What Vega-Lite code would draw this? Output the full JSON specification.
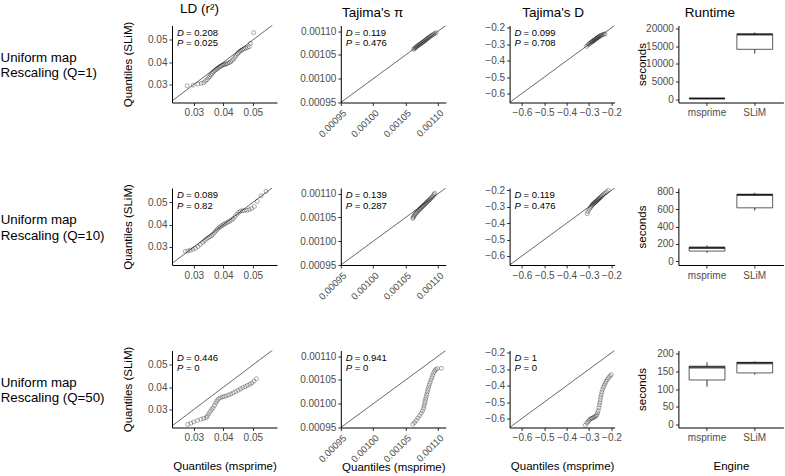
{
"$schema":"https://vega.github.io/schema/vega-lite/v6.json",
"padding":{"left":0,"top":1.5,"right":0,"bottom":0},
"config":{"font":"Liberation Sans","view":{"stroke":null},
"style":{"guide-title":{"fontWeight":"normal"}},
"point":{"shape":"circle","filled":false,"size":16,"color":"#000","opacity":0.55,"strokeWidth":0.6},
"axis":{"grid":false,"tickCount":20,"labelOverlap":false,"labelFlush":false,"domainColor":"#000","domainWidth":1,"tickColor":"#333","tickSize":3,"tickWidth":1,"labelColor":"#4d4d4d","labelFontSize":10,"labelPadding":2,"titleColor":"#000","titleFontSize":11.5,"titleFontWeight":"normal","labelFont":"Liberation Sans","titleFont":"Liberation Sans"},
"title":{"fontSize":13.5,"fontWeight":"normal","color":"#000","font":"Liberation Sans"},
"text":{"font":"Liberation Sans","fontSize":9.5,"color":"#000","align":"left","baseline":"middle"}},
"datasets":{
"ld1":[{"x":0.0277,"y":0.0294},{"x":0.0298,"y":0.0297},{"x":0.0314,"y":0.0302},{"x":0.0325,"y":0.0305},{"x":0.0333,"y":0.0308},{"x":0.034,"y":0.0316},{"x":0.0345,"y":0.0322},{"x":0.035,"y":0.033},{"x":0.0354,"y":0.0336},{"x":0.0358,"y":0.0343},{"x":0.0362,"y":0.035},{"x":0.0366,"y":0.0356},{"x":0.037,"y":0.0361},{"x":0.0374,"y":0.0366},{"x":0.0378,"y":0.037},{"x":0.0382,"y":0.0374},{"x":0.0386,"y":0.0378},{"x":0.039,"y":0.0381},{"x":0.0394,"y":0.0384},{"x":0.0398,"y":0.0387},{"x":0.0402,"y":0.0389},{"x":0.0406,"y":0.0391},{"x":0.041,"y":0.0393},{"x":0.0415,"y":0.0395},{"x":0.042,"y":0.0398},{"x":0.0425,"y":0.0402},{"x":0.043,"y":0.0408},{"x":0.0435,"y":0.0415},{"x":0.044,"y":0.0423},{"x":0.0444,"y":0.0431},{"x":0.0448,"y":0.0438},{"x":0.0452,"y":0.0444},{"x":0.0456,"y":0.0449},{"x":0.046,"y":0.0453},{"x":0.0465,"y":0.0457},{"x":0.047,"y":0.046},{"x":0.0476,"y":0.0463},{"x":0.0482,"y":0.0466},{"x":0.0488,"y":0.047},{"x":0.0492,"y":0.0485},{"x":0.0503,"y":0.0533}],
"ld2":[{"x":0.0271,"y":0.028},{"x":0.028,"y":0.0282},{"x":0.0288,"y":0.0285},{"x":0.0297,"y":0.0289},{"x":0.0305,"y":0.0294},{"x":0.0314,"y":0.0302},{"x":0.0322,"y":0.0311},{"x":0.033,"y":0.032},{"x":0.0336,"y":0.0328},{"x":0.0342,"y":0.0335},{"x":0.0348,"y":0.0341},{"x":0.0354,"y":0.0346},{"x":0.036,"y":0.0351},{"x":0.0365,"y":0.0357},{"x":0.037,"y":0.0365},{"x":0.0375,"y":0.0373},{"x":0.038,"y":0.038},{"x":0.0385,"y":0.0386},{"x":0.039,"y":0.0391},{"x":0.0395,"y":0.0396},{"x":0.04,"y":0.04},{"x":0.0405,"y":0.0404},{"x":0.041,"y":0.0408},{"x":0.0416,"y":0.0412},{"x":0.0422,"y":0.0416},{"x":0.0428,"y":0.0421},{"x":0.0434,"y":0.0428},{"x":0.044,"y":0.0437},{"x":0.0446,"y":0.0447},{"x":0.0452,"y":0.0455},{"x":0.0458,"y":0.0461},{"x":0.0465,"y":0.0463},{"x":0.0472,"y":0.0464},{"x":0.048,"y":0.0465},{"x":0.0488,"y":0.0468},{"x":0.0496,"y":0.0473},{"x":0.0505,"y":0.0482},{"x":0.0515,"y":0.0505},{"x":0.0528,"y":0.053},{"x":0.0545,"y":0.055}],
"ld3":[{"x":0.0279,"y":0.0233},{"x":0.029,"y":0.0238},{"x":0.03,"y":0.0244},{"x":0.0312,"y":0.025},{"x":0.0324,"y":0.0256},{"x":0.0333,"y":0.026},{"x":0.0342,"y":0.0263},{"x":0.0346,"y":0.027},{"x":0.035,"y":0.028},{"x":0.0355,"y":0.029},{"x":0.036,"y":0.0299},{"x":0.0365,"y":0.0307},{"x":0.037,"y":0.0318},{"x":0.0374,"y":0.0329},{"x":0.0378,"y":0.0338},{"x":0.0383,"y":0.0346},{"x":0.0389,"y":0.0352},{"x":0.0396,"y":0.0356},{"x":0.0403,"y":0.0358},{"x":0.041,"y":0.0361},{"x":0.0418,"y":0.0365},{"x":0.0426,"y":0.037},{"x":0.0434,"y":0.0375},{"x":0.0442,"y":0.038},{"x":0.045,"y":0.0386},{"x":0.0458,"y":0.0392},{"x":0.0466,"y":0.0398},{"x":0.0474,"y":0.0403},{"x":0.0482,"y":0.0408},{"x":0.049,"y":0.0413},{"x":0.0497,"y":0.0419},{"x":0.0504,"y":0.0427},{"x":0.0512,"y":0.0438}],
"pi1":[{"x":0.0010625,"y":0.001062},{"x":0.0010635,"y":0.0010635},{"x":0.0010648,"y":0.001065},{"x":0.001066,"y":0.0010665},{"x":0.0010672,"y":0.0010678},{"x":0.0010684,"y":0.001069},{"x":0.0010696,"y":0.0010702},{"x":0.0010708,"y":0.0010713},{"x":0.001072,"y":0.0010725},{"x":0.0010732,"y":0.0010737},{"x":0.0010744,"y":0.0010748},{"x":0.0010756,"y":0.001076},{"x":0.0010768,"y":0.0010772},{"x":0.001078,"y":0.0010784},{"x":0.0010792,"y":0.0010797},{"x":0.0010804,"y":0.0010809},{"x":0.0010816,"y":0.0010822},{"x":0.0010828,"y":0.0010836},{"x":0.001084,"y":0.001085},{"x":0.0010852,"y":0.0010864},{"x":0.0010866,"y":0.0010878},{"x":0.001088,"y":0.0010892},{"x":0.0010895,"y":0.0010906},{"x":0.0010912,"y":0.001092},{"x":0.001093,"y":0.0010935},{"x":0.001095,"y":0.0010952},{"x":0.001097,"y":0.0010968}],
"pi2":[{"x":0.001061,"y":0.001048},{"x":0.0010618,"y":0.00105},{"x":0.0010626,"y":0.0010522},{"x":0.0010636,"y":0.0010545},{"x":0.0010648,"y":0.0010568},{"x":0.001066,"y":0.001059},{"x":0.0010672,"y":0.001061},{"x":0.0010684,"y":0.0010628},{"x":0.0010696,"y":0.0010645},{"x":0.0010708,"y":0.0010662},{"x":0.001072,"y":0.0010678},{"x":0.0010732,"y":0.0010694},{"x":0.0010744,"y":0.001071},{"x":0.0010756,"y":0.0010726},{"x":0.0010768,"y":0.0010742},{"x":0.001078,"y":0.0010758},{"x":0.0010792,"y":0.0010774},{"x":0.0010804,"y":0.001079},{"x":0.0010816,"y":0.0010806},{"x":0.0010828,"y":0.0010822},{"x":0.001084,"y":0.0010838},{"x":0.0010852,"y":0.0010855},{"x":0.0010866,"y":0.0010872},{"x":0.001088,"y":0.001089},{"x":0.0010895,"y":0.001091},{"x":0.001091,"y":0.001093},{"x":0.0010925,"y":0.0010955},{"x":0.001094,"y":0.0010985},{"x":0.001095,"y":0.001101}],
"pi3":[{"x":0.0010612,"y":0.000957},{"x":0.0010638,"y":0.0009605},{"x":0.0010664,"y":0.000965},{"x":0.001069,"y":0.00097},{"x":0.0010716,"y":0.000975},{"x":0.001074,"y":0.00098},{"x":0.001076,"y":0.000985},{"x":0.0010775,"y":0.00099},{"x":0.0010785,"y":0.000995},{"x":0.0010793,"y":0.001},{"x":0.00108,"y":0.001005},{"x":0.0010808,"y":0.00101},{"x":0.0010817,"y":0.001015},{"x":0.0010826,"y":0.00102},{"x":0.0010835,"y":0.001025},{"x":0.0010845,"y":0.00103},{"x":0.0010855,"y":0.001035},{"x":0.0010866,"y":0.00104},{"x":0.0010878,"y":0.001045},{"x":0.0010892,"y":0.00105},{"x":0.0010905,"y":0.001055},{"x":0.0010918,"y":0.00106},{"x":0.0010932,"y":0.001065},{"x":0.0010948,"y":0.001069},{"x":0.0010966,"y":0.001072},{"x":0.001099,"y":0.001074},{"x":0.0011052,"y":0.0010745}],
"td1":[{"x":-0.311,"y":-0.313},{"x":-0.305,"y":-0.304},{"x":-0.3,"y":-0.298},{"x":-0.296,"y":-0.294},{"x":-0.292,"y":-0.29},{"x":-0.289,"y":-0.287},{"x":-0.286,"y":-0.284},{"x":-0.283,"y":-0.281},{"x":-0.28,"y":-0.278},{"x":-0.277,"y":-0.275},{"x":-0.274,"y":-0.272},{"x":-0.271,"y":-0.269},{"x":-0.268,"y":-0.266},{"x":-0.265,"y":-0.263},{"x":-0.262,"y":-0.26},{"x":-0.259,"y":-0.257},{"x":-0.256,"y":-0.254},{"x":-0.253,"y":-0.251},{"x":-0.249,"y":-0.248},{"x":-0.245,"y":-0.245},{"x":-0.24,"y":-0.242},{"x":-0.234,"y":-0.239},{"x":-0.229,"y":-0.237}],
"td2":[{"x":-0.309,"y":-0.343},{"x":-0.305,"y":-0.33},{"x":-0.3,"y":-0.318},{"x":-0.295,"y":-0.307},{"x":-0.291,"y":-0.299},{"x":-0.288,"y":-0.293},{"x":-0.285,"y":-0.288},{"x":-0.282,"y":-0.284},{"x":-0.279,"y":-0.28},{"x":-0.276,"y":-0.277},{"x":-0.273,"y":-0.273},{"x":-0.27,"y":-0.27},{"x":-0.267,"y":-0.266},{"x":-0.264,"y":-0.262},{"x":-0.261,"y":-0.258},{"x":-0.258,"y":-0.254},{"x":-0.255,"y":-0.25},{"x":-0.252,"y":-0.246},{"x":-0.248,"y":-0.242},{"x":-0.244,"y":-0.236},{"x":-0.24,"y":-0.23},{"x":-0.235,"y":-0.224},{"x":-0.229,"y":-0.217},{"x":-0.222,"y":-0.209},{"x":-0.214,"y":-0.2}],
"td3":[{"x":-0.317,"y":-0.641},{"x":-0.31,"y":-0.628},{"x":-0.305,"y":-0.62},{"x":-0.3,"y":-0.612},{"x":-0.295,"y":-0.604},{"x":-0.29,"y":-0.6},{"x":-0.285,"y":-0.597},{"x":-0.28,"y":-0.594},{"x":-0.275,"y":-0.59},{"x":-0.27,"y":-0.585},{"x":-0.265,"y":-0.579},{"x":-0.262,"y":-0.566},{"x":-0.259,"y":-0.552},{"x":-0.256,"y":-0.535},{"x":-0.254,"y":-0.518},{"x":-0.252,"y":-0.503},{"x":-0.25,"y":-0.487},{"x":-0.248,"y":-0.471},{"x":-0.246,"y":-0.456},{"x":-0.243,"y":-0.44},{"x":-0.24,"y":-0.425},{"x":-0.236,"y":-0.41},{"x":-0.232,"y":-0.398},{"x":-0.228,"y":-0.385},{"x":-0.224,"y":-0.374},{"x":-0.219,"y":-0.363},{"x":-0.213,"y":-0.352},{"x":-0.207,"y":-0.342},{"x":-0.201,"y":-0.333}],
"rt1":[{"engine":"msprime","lower":120,"q1":150,"median":175,"q3":200,"upper":230},{"engine":"SLiM","lower":12950,"q1":14170,"median":18400,"q3":18460,"upper":18950}],
"rt2":[{"engine":"msprime","lower":98,"q1":118,"median":155,"q3":162,"upper":182},{"engine":"SLiM","lower":585,"q1":615,"median":763,"q3":769,"upper":788}],
"rt3":[{"engine":"msprime","lower":107,"q1":126,"median":162,"q3":165,"upper":176},{"engine":"SLiM","lower":141,"q1":146,"median":174,"q3":176,"upper":179}]
},
"spacing":44.5,
"vconcat":[
{"title":{"text":["Uniform map","Rescaling (Q=1)"],"orient":"left","angle":0,"align":"left","baseline":"middle","anchor":"middle","frame":"group","offset":25,"dy":32,"fontSize":13.3,"lineHeight":15.5},
"bounds":"flush","spacing":63.8,
"hconcat":[
{"width":105,"height":77,"title":{"text":"LD (r²)","anchor":"middle","frame":"bounds","offset":6},
"layer":[
{"data":{"values":[{"x":0.02,"y":0.02},{"x":0.06,"y":0.06}]},"mark":{"type":"line","color":"#000","strokeWidth":0.6,"clip":true},
"encoding":{"x":{"field":"x","type":"quantitative","title":null,"scale":{"domain":[0.0226,0.0582],"nice":false,"zero":false},"axis":{"values":[0.03,0.04,0.05],"format":".2f","tickCount":20}},
"y":{"field":"y","type":"quantitative","title":"Quantiles (SLiM)","scale":{"domain":[0.0219,0.0565],"nice":false,"zero":false},"axis":{"values":[0.03,0.04,0.05],"format":".2f","tickCount":20,"titleX":-39,"titleBaseline":"bottom"}}}},
{"data":{"name":"ld1"},"mark":{"type":"point"},"encoding":{"x":{"field":"x","type":"quantitative","title":null},"y":{"field":"y","type":"quantitative","title":"Quantiles (SLiM)"}}},
{"data":{"values":[{"s":"D"}]},"mark":{"type":"text","fontStyle":"italic","dx":5,"dy":7},"encoding":{"x":{"datum":0.0226},"y":{"datum":0.0565},"text":{"field":"s"}}},
{"data":{"values":[{"s":"= 0.208"}]},"mark":{"type":"text","dx":14,"dy":7},"encoding":{"x":{"datum":0.0226},"y":{"datum":0.0565},"text":{"field":"s"}}},
{"data":{"values":[{"s":"P"}]},"mark":{"type":"text","fontStyle":"italic","dx":5,"dy":17.5},"encoding":{"x":{"datum":0.0226},"y":{"datum":0.0565},"text":{"field":"s"}}},
{"data":{"values":[{"s":"= 0.025"}]},"mark":{"type":"text","dx":14,"dy":17.5},"encoding":{"x":{"datum":0.0226},"y":{"datum":0.0565},"text":{"field":"s"}}}
]},
{"width":105,"height":77,"title":{"text":"Tajima's π","anchor":"middle","frame":"bounds","offset":6},
"layer":[
{"data":{"values":[{"x":0.0009,"y":0.0009},{"x":0.0012,"y":0.0012}]},"mark":{"type":"line","color":"#000","strokeWidth":0.6,"clip":true},
"encoding":{"x":{"field":"x","type":"quantitative","title":null,"scale":{"domain":[0.00095,0.001112],"nice":false,"zero":false},"axis":{"values":[0.00095,0.001,0.00105,0.0011],"format":".5f","tickCount":20,"labelAngle":-45,"labelAlign":"right","labelBaseline":"top","labelFontSize":9.5}},
"y":{"field":"y","type":"quantitative","title":null,"scale":{"domain":[0.00095,0.001112],"nice":false,"zero":false},"axis":{"values":[0.00095,0.001,0.00105,0.0011],"format":".5f","tickCount":20}}}},
{"data":{"name":"pi1"},"mark":{"type":"point"},"encoding":{"x":{"field":"x","type":"quantitative","title":null},"y":{"field":"y","type":"quantitative","title":null}}},
{"data":{"values":[{"s":"D"}]},"mark":{"type":"text","fontStyle":"italic","dx":5,"dy":7},"encoding":{"x":{"datum":0.00095},"y":{"datum":0.001112},"text":{"field":"s"}}},
{"data":{"values":[{"s":"= 0.119"}]},"mark":{"type":"text","dx":14,"dy":7},"encoding":{"x":{"datum":0.00095},"y":{"datum":0.001112},"text":{"field":"s"}}},
{"data":{"values":[{"s":"P"}]},"mark":{"type":"text","fontStyle":"italic","dx":5,"dy":17.5},"encoding":{"x":{"datum":0.00095},"y":{"datum":0.001112},"text":{"field":"s"}}},
{"data":{"values":[{"s":"= 0.476"}]},"mark":{"type":"text","dx":14,"dy":17.5},"encoding":{"x":{"datum":0.00095},"y":{"datum":0.001112},"text":{"field":"s"}}}
]},
{"width":105,"height":77,"title":{"text":"Tajima's D","anchor":"middle","frame":"bounds","offset":3},
"layer":[
{"data":{"values":[{"x":-0.7,"y":-0.7},{"x":-0.1,"y":-0.1}]},"mark":{"type":"line","color":"#000","strokeWidth":0.6,"clip":true},
"encoding":{"x":{"field":"x","type":"quantitative","title":null,"scale":{"domain":[-0.655,-0.186],"nice":false,"zero":false},"axis":{"values":[-0.6,-0.5,-0.4,-0.3,-0.2],"format":".1f","tickCount":20}},
"y":{"field":"y","type":"quantitative","title":null,"scale":{"domain":[-0.655,-0.186],"nice":false,"zero":false},"axis":{"values":[-0.6,-0.5,-0.4,-0.3,-0.2],"format":".1f","tickCount":20}}}},
{"data":{"name":"td1"},"mark":{"type":"point"},"encoding":{"x":{"field":"x","type":"quantitative","title":null},"y":{"field":"y","type":"quantitative","title":null}}},
{"data":{"values":[{"s":"D"}]},"mark":{"type":"text","fontStyle":"italic","dx":5,"dy":7},"encoding":{"x":{"datum":-0.655},"y":{"datum":-0.186},"text":{"field":"s"}}},
{"data":{"values":[{"s":"= 0.099"}]},"mark":{"type":"text","dx":14,"dy":7},"encoding":{"x":{"datum":-0.655},"y":{"datum":-0.186},"text":{"field":"s"}}},
{"data":{"values":[{"s":"P"}]},"mark":{"type":"text","fontStyle":"italic","dx":5,"dy":17.5},"encoding":{"x":{"datum":-0.655},"y":{"datum":-0.186},"text":{"field":"s"}}},
{"data":{"values":[{"s":"= 0.708"}]},"mark":{"type":"text","dx":14,"dy":17.5},"encoding":{"x":{"datum":-0.655},"y":{"datum":-0.186},"text":{"field":"s"}}}
]},
{"width":105,"height":77,"title":{"text":"Runtime","anchor":"middle","frame":"bounds","offset":4},"data":{"name":"rt1"},
"encoding":{"x":{"field":"engine","type":"nominal","title":null,"sort":["msprime","SLiM"],"scale":{"paddingInner":0,"paddingOuter":0.1},"axis":{"labelAngle":0,"bandPosition":0.5}}},
"layer":[
{"mark":{"type":"rule","color":"#333","strokeWidth":1},"encoding":{"y":{"field":"lower","type":"quantitative","title":"seconds","scale":{"domain":[-970,20950],"nice":false,"zero":false},"axis":{"values":[0,5000,10000,15000,20000],"format":"d","tickCount":20,"titleX":-31,"titleBaseline":"bottom"}},"y2":{"field":"upper"}}},
{"mark":{"type":"bar","fill":"#fff","stroke":"#333","strokeWidth":0.8,"width":{"band":0.75}},"encoding":{"y":{"field":"q1","type":"quantitative","title":"seconds"},"y2":{"field":"q3"}}},
{"mark":{"type":"tick","color":"#000","thickness":2.2,"size":35.8},"encoding":{"y":{"field":"median","type":"quantitative","title":"seconds"}}}
]}
]},
{"title":{"text":["Uniform map","Rescaling (Q=10)"],"orient":"left","angle":0,"align":"left","baseline":"middle","anchor":"middle","frame":"group","offset":17.5,"dy":32,"fontSize":13.3,"lineHeight":15.5},
"bounds":"flush","spacing":63.8,
"hconcat":[
{"width":105,"height":77,
"layer":[
{"data":{"values":[{"x":0.02,"y":0.02},{"x":0.06,"y":0.06}]},"mark":{"type":"line","color":"#000","strokeWidth":0.6,"clip":true},
"encoding":{"x":{"field":"x","type":"quantitative","title":null,"scale":{"domain":[0.0226,0.0582],"nice":false,"zero":false},"axis":{"values":[0.03,0.04,0.05],"format":".2f","tickCount":20}},
"y":{"field":"y","type":"quantitative","title":"Quantiles (SLiM)","scale":{"domain":[0.0219,0.0565],"nice":false,"zero":false},"axis":{"values":[0.03,0.04,0.05],"format":".2f","tickCount":20,"titleX":-39,"titleBaseline":"bottom"}}}},
{"data":{"name":"ld2"},"mark":{"type":"point"},"encoding":{"x":{"field":"x","type":"quantitative","title":null},"y":{"field":"y","type":"quantitative","title":"Quantiles (SLiM)"}}},
{"data":{"values":[{"s":"D"}]},"mark":{"type":"text","fontStyle":"italic","dx":5,"dy":7},"encoding":{"x":{"datum":0.0226},"y":{"datum":0.0565},"text":{"field":"s"}}},
{"data":{"values":[{"s":"= 0.089"}]},"mark":{"type":"text","dx":14,"dy":7},"encoding":{"x":{"datum":0.0226},"y":{"datum":0.0565},"text":{"field":"s"}}},
{"data":{"values":[{"s":"P"}]},"mark":{"type":"text","fontStyle":"italic","dx":5,"dy":17.5},"encoding":{"x":{"datum":0.0226},"y":{"datum":0.0565},"text":{"field":"s"}}},
{"data":{"values":[{"s":"= 0.82"}]},"mark":{"type":"text","dx":14,"dy":17.5},"encoding":{"x":{"datum":0.0226},"y":{"datum":0.0565},"text":{"field":"s"}}}
]},
{"width":105,"height":77,
"layer":[
{"data":{"values":[{"x":0.0009,"y":0.0009},{"x":0.0012,"y":0.0012}]},"mark":{"type":"line","color":"#000","strokeWidth":0.6,"clip":true},
"encoding":{"x":{"field":"x","type":"quantitative","title":null,"scale":{"domain":[0.00095,0.001112],"nice":false,"zero":false},"axis":{"values":[0.00095,0.001,0.00105,0.0011],"format":".5f","tickCount":20,"labelAngle":-45,"labelAlign":"right","labelBaseline":"top","labelFontSize":9.5}},
"y":{"field":"y","type":"quantitative","title":null,"scale":{"domain":[0.00095,0.001112],"nice":false,"zero":false},"axis":{"values":[0.00095,0.001,0.00105,0.0011],"format":".5f","tickCount":20}}}},
{"data":{"name":"pi2"},"mark":{"type":"point"},"encoding":{"x":{"field":"x","type":"quantitative","title":null},"y":{"field":"y","type":"quantitative","title":null}}},
{"data":{"values":[{"s":"D"}]},"mark":{"type":"text","fontStyle":"italic","dx":5,"dy":7},"encoding":{"x":{"datum":0.00095},"y":{"datum":0.001112},"text":{"field":"s"}}},
{"data":{"values":[{"s":"= 0.139"}]},"mark":{"type":"text","dx":14,"dy":7},"encoding":{"x":{"datum":0.00095},"y":{"datum":0.001112},"text":{"field":"s"}}},
{"data":{"values":[{"s":"P"}]},"mark":{"type":"text","fontStyle":"italic","dx":5,"dy":17.5},"encoding":{"x":{"datum":0.00095},"y":{"datum":0.001112},"text":{"field":"s"}}},
{"data":{"values":[{"s":"= 0.287"}]},"mark":{"type":"text","dx":14,"dy":17.5},"encoding":{"x":{"datum":0.00095},"y":{"datum":0.001112},"text":{"field":"s"}}}
]},
{"width":105,"height":77,
"layer":[
{"data":{"values":[{"x":-0.7,"y":-0.7},{"x":-0.1,"y":-0.1}]},"mark":{"type":"line","color":"#000","strokeWidth":0.6,"clip":true},
"encoding":{"x":{"field":"x","type":"quantitative","title":null,"scale":{"domain":[-0.655,-0.186],"nice":false,"zero":false},"axis":{"values":[-0.6,-0.5,-0.4,-0.3,-0.2],"format":".1f","tickCount":20}},
"y":{"field":"y","type":"quantitative","title":null,"scale":{"domain":[-0.655,-0.186],"nice":false,"zero":false},"axis":{"values":[-0.6,-0.5,-0.4,-0.3,-0.2],"format":".1f","tickCount":20}}}},
{"data":{"name":"td2"},"mark":{"type":"point"},"encoding":{"x":{"field":"x","type":"quantitative","title":null},"y":{"field":"y","type":"quantitative","title":null}}},
{"data":{"values":[{"s":"D"}]},"mark":{"type":"text","fontStyle":"italic","dx":5,"dy":7},"encoding":{"x":{"datum":-0.655},"y":{"datum":-0.186},"text":{"field":"s"}}},
{"data":{"values":[{"s":"= 0.119"}]},"mark":{"type":"text","dx":14,"dy":7},"encoding":{"x":{"datum":-0.655},"y":{"datum":-0.186},"text":{"field":"s"}}},
{"data":{"values":[{"s":"P"}]},"mark":{"type":"text","fontStyle":"italic","dx":5,"dy":17.5},"encoding":{"x":{"datum":-0.655},"y":{"datum":-0.186},"text":{"field":"s"}}},
{"data":{"values":[{"s":"= 0.476"}]},"mark":{"type":"text","dx":14,"dy":17.5},"encoding":{"x":{"datum":-0.655},"y":{"datum":-0.186},"text":{"field":"s"}}}
]},
{"width":105,"height":77,"data":{"name":"rt2"},
"encoding":{"x":{"field":"engine","type":"nominal","title":null,"sort":["msprime","SLiM"],"scale":{"paddingInner":0,"paddingOuter":0.1},"axis":{"labelAngle":0,"bandPosition":0.5}}},
"layer":[
{"mark":{"type":"rule","color":"#333","strokeWidth":1},"encoding":{"y":{"field":"lower","type":"quantitative","title":"seconds","scale":{"domain":[-42,843],"nice":false,"zero":false},"axis":{"values":[0,200,400,600,800],"format":"d","tickCount":20,"titleX":-31,"titleBaseline":"bottom"}},"y2":{"field":"upper"}}},
{"mark":{"type":"bar","fill":"#fff","stroke":"#333","strokeWidth":0.8,"width":{"band":0.75}},"encoding":{"y":{"field":"q1","type":"quantitative","title":"seconds"},"y2":{"field":"q3"}}},
{"mark":{"type":"tick","color":"#000","thickness":2.2,"size":35.8},"encoding":{"y":{"field":"median","type":"quantitative","title":"seconds"}}}
]}
]},
{"title":{"text":["Uniform map","Rescaling (Q=50)"],"orient":"left","angle":0,"align":"left","baseline":"middle","anchor":"middle","frame":"group","offset":17.5,"dy":32,"fontSize":13.3,"lineHeight":15.5},
"bounds":"flush","spacing":63.8,
"hconcat":[
{"width":105,"height":77,
"layer":[
{"data":{"values":[{"x":0.02,"y":0.02},{"x":0.06,"y":0.06}]},"mark":{"type":"line","color":"#000","strokeWidth":0.6,"clip":true},
"encoding":{"x":{"field":"x","type":"quantitative","title":"Quantiles (msprime)","scale":{"domain":[0.0226,0.0582],"nice":false,"zero":false},"axis":{"values":[0.03,0.04,0.05],"format":".2f","tickCount":20,"titleY":33}},
"y":{"field":"y","type":"quantitative","title":"Quantiles (SLiM)","scale":{"domain":[0.0219,0.0565],"nice":false,"zero":false},"axis":{"values":[0.03,0.04,0.05],"format":".2f","tickCount":20,"titleX":-39,"titleBaseline":"bottom"}}}},
{"data":{"name":"ld3"},"mark":{"type":"point"},"encoding":{"x":{"field":"x","type":"quantitative","title":"Quantiles (msprime)"},"y":{"field":"y","type":"quantitative","title":"Quantiles (SLiM)"}}},
{"data":{"values":[{"s":"D"}]},"mark":{"type":"text","fontStyle":"italic","dx":5,"dy":7},"encoding":{"x":{"datum":0.0226},"y":{"datum":0.0565},"text":{"field":"s"}}},
{"data":{"values":[{"s":"= 0.446"}]},"mark":{"type":"text","dx":14,"dy":7},"encoding":{"x":{"datum":0.0226},"y":{"datum":0.0565},"text":{"field":"s"}}},
{"data":{"values":[{"s":"P"}]},"mark":{"type":"text","fontStyle":"italic","dx":5,"dy":17.5},"encoding":{"x":{"datum":0.0226},"y":{"datum":0.0565},"text":{"field":"s"}}},
{"data":{"values":[{"s":"= 0"}]},"mark":{"type":"text","dx":14,"dy":17.5},"encoding":{"x":{"datum":0.0226},"y":{"datum":0.0565},"text":{"field":"s"}}}
]},
{"width":105,"height":77,
"layer":[
{"data":{"values":[{"x":0.0009,"y":0.0009},{"x":0.0012,"y":0.0012}]},"mark":{"type":"line","color":"#000","strokeWidth":0.6,"clip":true},
"encoding":{"x":{"field":"x","type":"quantitative","title":"Quantiles (msprime)","scale":{"domain":[0.00095,0.001112],"nice":false,"zero":false},"axis":{"values":[0.00095,0.001,0.00105,0.0011],"format":".5f","tickCount":20,"labelAngle":-45,"labelAlign":"right","labelBaseline":"top","labelFontSize":9.5,"titleY":34}},
"y":{"field":"y","type":"quantitative","title":null,"scale":{"domain":[0.00095,0.001112],"nice":false,"zero":false},"axis":{"values":[0.00095,0.001,0.00105,0.0011],"format":".5f","tickCount":20}}}},
{"data":{"name":"pi3"},"mark":{"type":"point"},"encoding":{"x":{"field":"x","type":"quantitative","title":"Quantiles (msprime)"},"y":{"field":"y","type":"quantitative","title":null}}},
{"data":{"values":[{"s":"D"}]},"mark":{"type":"text","fontStyle":"italic","dx":5,"dy":7},"encoding":{"x":{"datum":0.00095},"y":{"datum":0.001112},"text":{"field":"s"}}},
{"data":{"values":[{"s":"= 0.941"}]},"mark":{"type":"text","dx":14,"dy":7},"encoding":{"x":{"datum":0.00095},"y":{"datum":0.001112},"text":{"field":"s"}}},
{"data":{"values":[{"s":"P"}]},"mark":{"type":"text","fontStyle":"italic","dx":5,"dy":17.5},"encoding":{"x":{"datum":0.00095},"y":{"datum":0.001112},"text":{"field":"s"}}},
{"data":{"values":[{"s":"= 0"}]},"mark":{"type":"text","dx":14,"dy":17.5},"encoding":{"x":{"datum":0.00095},"y":{"datum":0.001112},"text":{"field":"s"}}}
]},
{"width":105,"height":77,
"layer":[
{"data":{"values":[{"x":-0.7,"y":-0.7},{"x":-0.1,"y":-0.1}]},"mark":{"type":"line","color":"#000","strokeWidth":0.6,"clip":true},
"encoding":{"x":{"field":"x","type":"quantitative","title":"Quantiles (msprime)","scale":{"domain":[-0.655,-0.186],"nice":false,"zero":false},"axis":{"values":[-0.6,-0.5,-0.4,-0.3,-0.2],"format":".1f","tickCount":20,"titleY":33}},
"y":{"field":"y","type":"quantitative","title":null,"scale":{"domain":[-0.655,-0.186],"nice":false,"zero":false},"axis":{"values":[-0.6,-0.5,-0.4,-0.3,-0.2],"format":".1f","tickCount":20}}}},
{"data":{"name":"td3"},"mark":{"type":"point"},"encoding":{"x":{"field":"x","type":"quantitative","title":"Quantiles (msprime)"},"y":{"field":"y","type":"quantitative","title":null}}},
{"data":{"values":[{"s":"D"}]},"mark":{"type":"text","fontStyle":"italic","dx":5,"dy":7},"encoding":{"x":{"datum":-0.655},"y":{"datum":-0.186},"text":{"field":"s"}}},
{"data":{"values":[{"s":"= 1"}]},"mark":{"type":"text","dx":14,"dy":7},"encoding":{"x":{"datum":-0.655},"y":{"datum":-0.186},"text":{"field":"s"}}},
{"data":{"values":[{"s":"P"}]},"mark":{"type":"text","fontStyle":"italic","dx":5,"dy":17.5},"encoding":{"x":{"datum":-0.655},"y":{"datum":-0.186},"text":{"field":"s"}}},
{"data":{"values":[{"s":"= 0"}]},"mark":{"type":"text","dx":14,"dy":17.5},"encoding":{"x":{"datum":-0.655},"y":{"datum":-0.186},"text":{"field":"s"}}}
]},
{"width":105,"height":77,"data":{"name":"rt3"},
"encoding":{"x":{"field":"engine","type":"nominal","title":"Engine","sort":["msprime","SLiM"],"scale":{"paddingInner":0,"paddingOuter":0.1},"axis":{"labelAngle":0,"bandPosition":0.5,"titleY":33}}},
"layer":[
{"mark":{"type":"rule","color":"#333","strokeWidth":1},"encoding":{"y":{"field":"lower","type":"quantitative","title":"seconds","scale":{"domain":[-8.5,209.5],"nice":false,"zero":false},"axis":{"values":[0,50,100,150,200],"format":"d","tickCount":20,"titleX":-31,"titleBaseline":"bottom"}},"y2":{"field":"upper"}}},
{"mark":{"type":"bar","fill":"#fff","stroke":"#333","strokeWidth":0.8,"width":{"band":0.75}},"encoding":{"y":{"field":"q1","type":"quantitative","title":"seconds"},"y2":{"field":"q3"}}},
{"mark":{"type":"tick","color":"#000","thickness":2.2,"size":35.8},"encoding":{"y":{"field":"median","type":"quantitative","title":"seconds"}}}
]}
]}
]
}
